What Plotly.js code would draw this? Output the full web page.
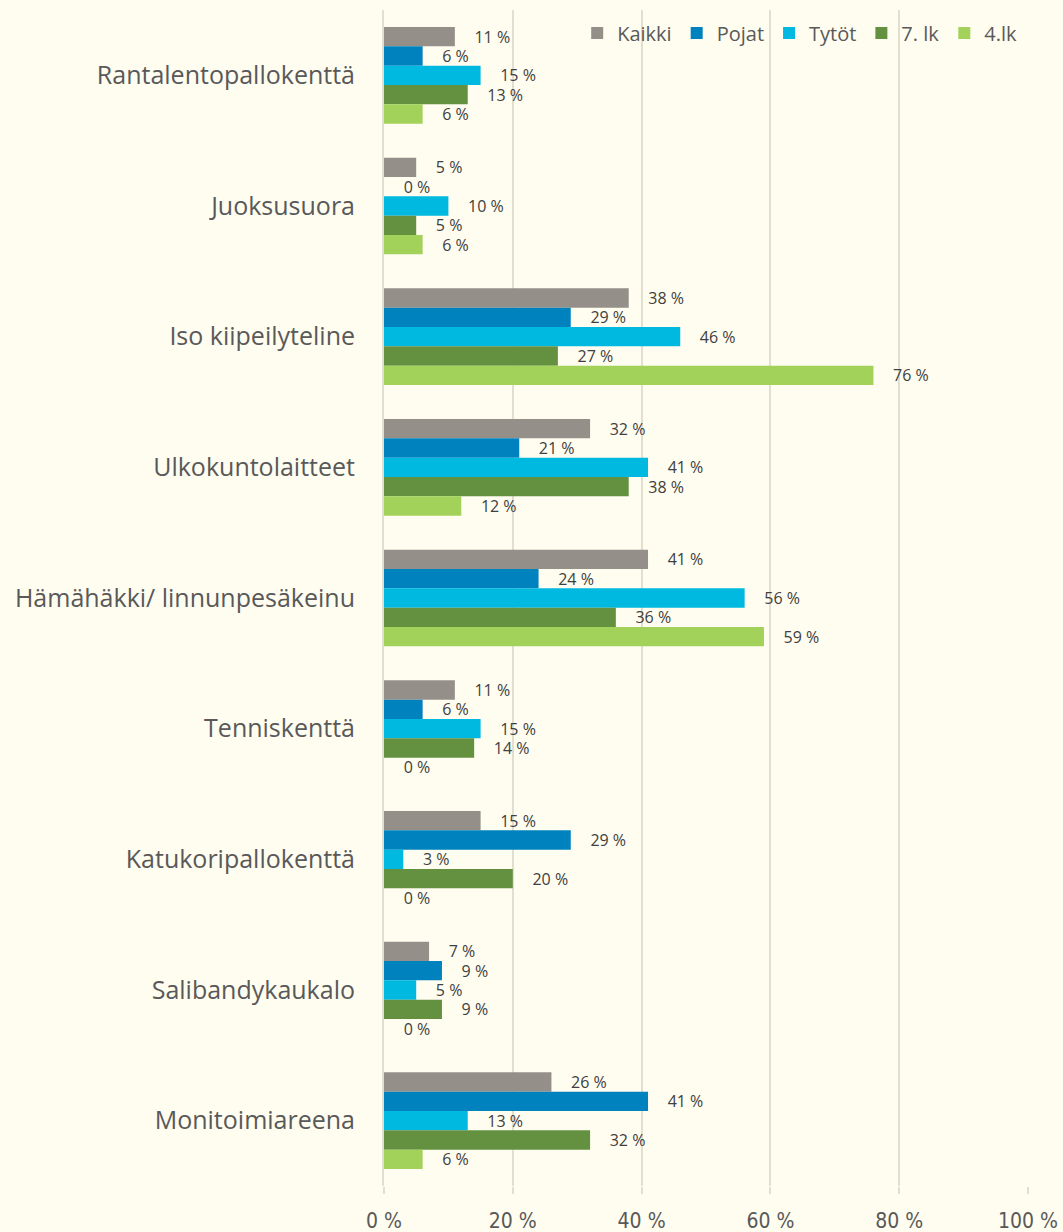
<!DOCTYPE html>
<html>
<head>
<meta charset="utf-8">
<script src="https://cdn.plot.ly/plotly-3.0.1.min.js"></script>
<style>html,body{margin:0;padding:0;background:#FFFDF0;}#chart{width:1063px;height:1232px;}</style>
</head>
<body>
<div id="chart"></div>
<script>
const categories = ["Rantalentopallokenttä","Juoksusuora","Iso kiipeilyteline","Ulkokuntolaitteet","Hämähäkki/ linnunpesäkeinu","Tenniskenttä","Katukoripallokenttä","Salibandykaukalo","Monitoimiareena"];
const seriesNames = ["Kaikki","Pojat","Tytöt","7. lk","4.lk"];
const kaikki = [11, 5, 38, 32, 41, 11, 15, 7, 26];
const pojat  = [6, 0, 29, 21, 24, 6, 29, 9, 41];
const tytot  = [15, 10, 46, 41, 56, 15, 3, 5, 13];
const lk7    = [13, 5, 27, 38, 36, 14, 20, 9, 32];
const lk4    = [6, 6, 76, 12, 59, 0, 0, 0, 6];
const xTicks = [0, 20, 40, 60, 80, 100];
const xTickLabels = ["0 %","20 %","40 %","60 %","80 %","100 %"];
const colors = ["#948F88","#0082BF","#00B9E1","#639140","#A2D25A"];

const seriesValues = [kaikki, pojat, tytot, lk7, lk4];
const traces = seriesValues.map((vals, i) => ({
  type: "bar",
  orientation: "h",
  name: seriesNames[i],
  x: vals,
  y: categories,
  marker: {color: colors[i], line: {width: 0}},
  text: vals.map(v => "    " + v + " %"),
  texttemplate: "%{text}",
  textposition: "outside",
  textfont: {family: "'Open Sans', sans-serif", size: 16, color: "#404040"},
  cliponaxis: false,
  constraintext: "none",
  hoverinfo: "none"
}));

const layout = {
  width: 1063,
  height: 1232,
  paper_bgcolor: "#FFFDF0",
  plot_bgcolor: "#FFFDF0",
  margin: {l: 384, r: 35, t: 10, b: 46},
  barmode: "group",
  bargap: 0.26,
  bargroupgap: 0,
  showlegend: true,
  legend: {
    orientation: "h",
    x: 0.3, xanchor: "left",
    y: 0.997, yanchor: "top",
    bgcolor: "rgba(0,0,0,0)",
    font: {family: "'Open Sans', sans-serif", size: 20, color: "#595959"},
    traceorder: "normal",
    itemwidth: 30
  },
  xaxis: {
    range: [0, 100],
    tickvals: xTicks,
    ticktext: xTickLabels,
    showgrid: true,
    gridcolor: "#E3DFCF",
    gridwidth: 2,
    zeroline: false,
    showline: false,
    ticks: "outside",
    ticklen: 7,
    tickcolor: "#E3DFCF",
    tickwidth: 2,
    ticklabelstandoff: 9,
    tickfont: {family: "'DejaVu Sans Condensed', 'Liberation Sans Narrow', sans-serif", size: 21, color: "#595959"},
    fixedrange: true
  },
  yaxis: {
    type: "category",
    autorange: "reversed",
    showgrid: false,
    zeroline: false,
    showline: true,
    linecolor: "#E3DFCF",
    linewidth: 2,
    ticks: "",
    ticklabelstandoff: 22,
    tickfont: {family: "'Open Sans', sans-serif", size: 25, color: "#595959"},
    fixedrange: true
  },
  font: {family: "'Open Sans', sans-serif", color: "#595959"}
};

Plotly.newPlot("chart", traces, layout, {displayModeBar: false, staticPlot: true});
</script>
</body>
</html>
